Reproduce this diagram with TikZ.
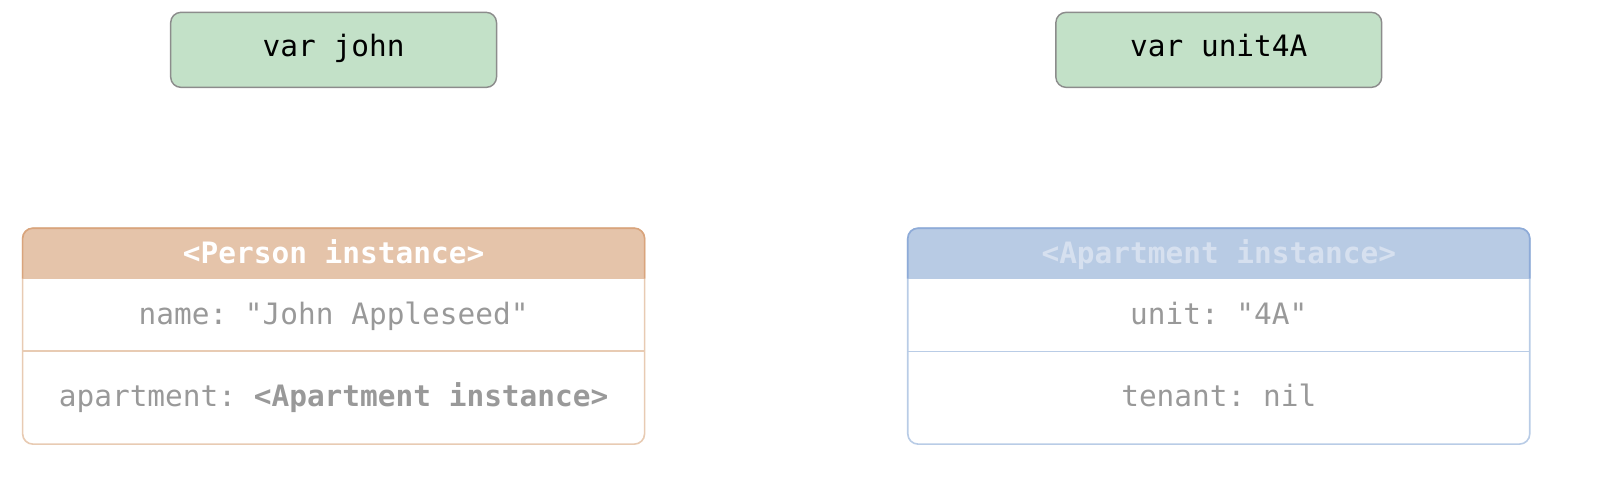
\documentclass[tikz,border=0pt]{standalone}
\usepackage{fontspec}
\setmonofont{DejaVu Sans Mono}
\definecolor{varfill}{HTML}{C3E1C8}
\definecolor{varline}{HTML}{8C8C8C}
\definecolor{personfill}{HTML}{E5C4AA}
\definecolor{personline}{HTML}{D9A47C}
\definecolor{personbody}{HTML}{E8CBB3}
\definecolor{aptfill}{HTML}{B8CBE4}
\definecolor{aptline}{HTML}{8EABD8}
\definecolor{aptbody}{HTML}{B9CCE6}
\definecolor{apttext}{HTML}{D6E0EF}
\definecolor{fieldtext}{HTML}{999999}
\tikzset{
    varbox/.style={rectangle,rounded corners=0.2cm,draw=varline,fill=varfill,line width=0.8pt,
        minimum width=6.34cm,minimum height=1.46cm,text height=0.73em,text depth=0pt,
        font=\ttfamily\fontsize{16.3}{19}\selectfont},
    head/.style={font=\ttfamily\bfseries\fontsize{16.3}{19}\selectfont,text height=0.73em,text depth=0pt},
    field/.style={font=\ttfamily\fontsize{16.3}{19}\selectfont,text=fieldtext,text height=0.73em,text depth=0pt},
}

\begin{document}
\begin{tikzpicture}[x=0.02cm,y=-0.02cm]
    \useasboundingbox (0,0) rectangle (1568,465);
    % variables
    \node[varbox] (john) at (324.5,48.5) {var john};
    \node[varbox] (unit4A) at (1185.5,48.5) {var unit4A};
    % person instance
    \fill[personfill,rounded corners=0.2cm] (22,222) rectangle (627,271);
    \fill[personfill] (22,250) rectangle (627,271);
    \draw[personbody,line width=0.9pt,rounded corners=0.2cm] (22,222) rectangle (627,432);
    \draw[personline,line width=0.9pt,rounded corners=0.2cm] (22,271) -- (22,222) -- (627,222) -- (627,271);
    \draw[personbody,line width=0.9pt] (22,341.5) -- (627,341.5);
    \node[head,text=white] (personhead) at (324.5,250) {<Person instance>};
    \node[field] (name) at (324.5,309) {name: "John Appleseed"};
    \node[field] (apartment) at (324.5,389) {apartment: \textbf{<Apartment instance>}};
    % apartment instance
    \fill[aptfill,rounded corners=0.2cm] (883,222) rectangle (1488,271);
    \fill[aptfill] (883,250) rectangle (1488,271);
    \draw[aptbody,line width=0.9pt,rounded corners=0.2cm] (883,222) rectangle (1488,432);
    \draw[aptline,line width=0.9pt,rounded corners=0.2cm] (883,271) -- (883,222) -- (1488,222) -- (1488,271);
    \draw[aptbody,line width=0.9pt] (883,342) -- (1488,342);
    \node[head,text=apttext] (apthead) at (1185.5,250) {<Apartment instance>};
    \node[field] (unit) at (1185.5,309) {unit: "4A"};
    \node[field] (tenant) at (1185.5,389) {tenant: nil};
\end{tikzpicture}
\end{document}
